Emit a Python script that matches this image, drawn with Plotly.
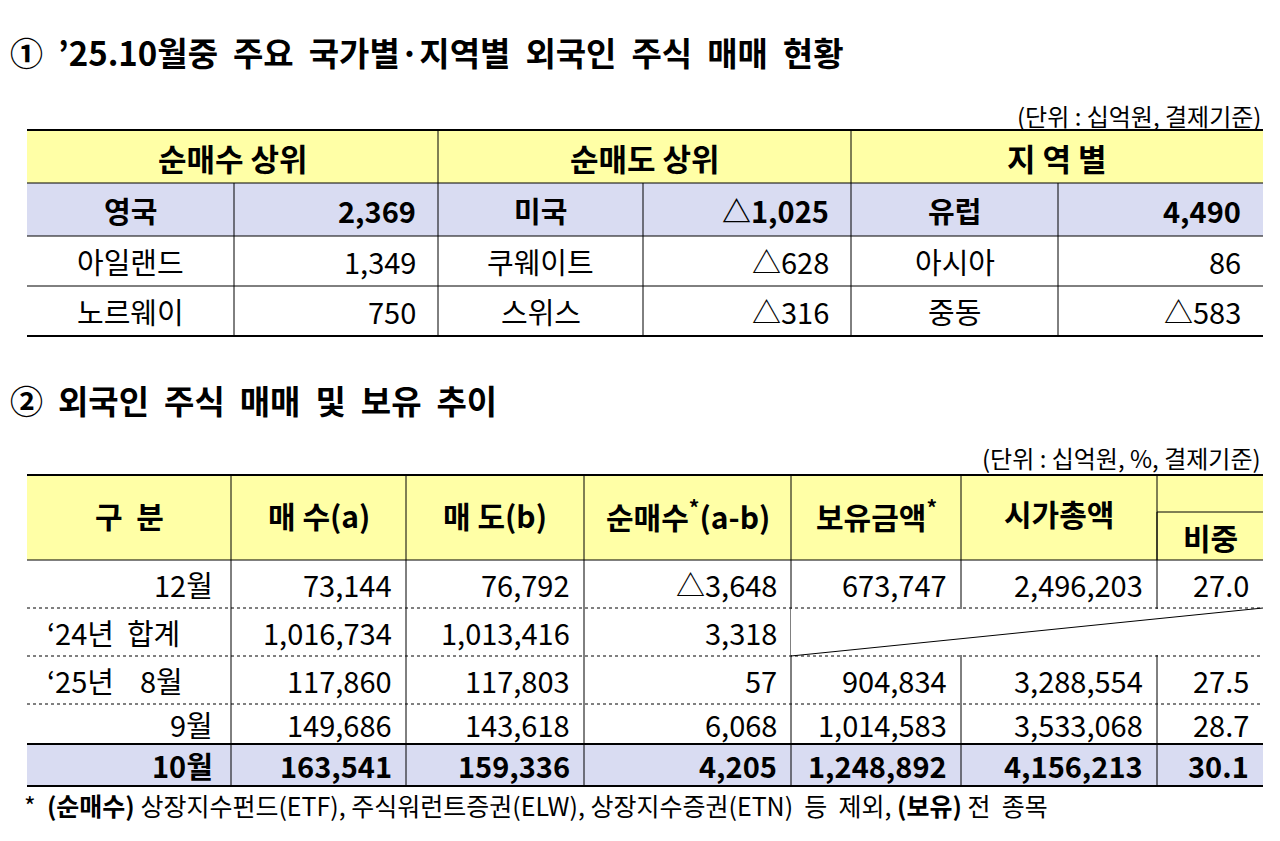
import plotly.graph_objects as go

FONT = "Noto Sans CJK KR"
YEL = "#FFFFA6"
LAV = "#D9DCF2"

# table 1 data
t1_groups = ["순매수 상위", "순매도 상위", "지 역 별"]
buy_names = ["영국", "아일랜드", "노르웨이"]
buy_vals = ["2,369", "1,349", "750"]
sell_names = ["미국", "쿠웨이트", "스위스"]
sell_vals = ["△1,025", "△628", "△316"]
reg_names = ["유럽", "아시아", "중동"]
reg_vals = ["4,490", "86", "△583"]

# table 2 data
t2_headers = ["구  분", "매 수(a)", "매 도(b)", "순매수<sup>*</sup>(a-b)", "보유금액<sup>*</sup>", "시가총액"]
t2_labels = ["12월", "‘24년  합계", "‘25년    8월", "9월", "10월"]
t2_buy = ["73,144", "1,016,734", "117,860", "149,686", "163,541"]
t2_sell = ["76,792", "1,013,416", "117,803", "143,618", "159,336"]
t2_net = ["△3,648", "3,318", "57", "6,068", "4,205"]
t2_hold = ["673,747", "", "904,834", "1,014,583", "1,248,892"]
t2_cap = ["2,496,203", "", "3,288,554", "3,533,068", "4,156,213"]
t2_share = ["27.0", "", "27.5", "28.7", "30.1"]

fig = go.Figure()
shapes, ann = [], []
NB = "\u00a0"

def rect(x0, y0, x1, y1, color):
    shapes.append(dict(type="rect", x0=x0, x1=x1, y0=y0, y1=y1, fillcolor=color, line_width=0, layer="below"))

def line(x0, y0, x1, y1, w=1, dash="solid", color="#000"):
    shapes.append(dict(type="line", x0=x0, x1=x1, y0=y0, y1=y1, line=dict(color=color, width=w, dash=dash)))

def text(x, y, s, anchor="center", size=29, bold=False):
    s = s.replace(" ", NB)
    if bold:
        s = "<b>" + s + "</b>"
    ann.append(dict(x=x, y=y, text=s, showarrow=False, xanchor=anchor, yanchor="middle",
                    font=dict(family=FONT, size=size, color="#000")))

# titles
text(8, 52, "①  ’25.10월중  주요  국가별·지역별  외국인  주식  매매  현황", "left", 33, True)
text(1263, 115, "(단위 : 십억원, 결제기준)", "right", 24)
text(8, 400, "②  외국인  주식  매매  및  보유  추이", "left", 33, True)
text(1263, 457, "(단위 : 십억원, %, 결제기준)", "right", 24)

# ---- table 1
cx = [27, 234, 438, 643, 851, 1058, 1263]
ry = [130, 183, 236, 286, 336]
rect(27, 130, 1263, 183, YEL)
rect(27, 183, 1263, 236, LAV)
line(27, 130, 1263, 130, 2)
line(27, 183, 1263, 183, 1)
line(27, 236, 1263, 236, 1)
line(27, 286, 1263, 286, 1)
line(27, 336, 1263, 336, 2)
for i, x in enumerate(cx[1:-1]):
    y0 = 130 if i % 2 == 1 else 183
    line(x, y0, x, 336, 1)
for g, grp in enumerate(t1_groups):
    text((cx[2 * g] + cx[2 * g + 2]) / 2, 157, grp, bold=True, size=31)
cols = [(buy_names, buy_vals), (sell_names, sell_vals), (reg_names, reg_vals)]
for g, (names, vals) in enumerate(cols):
    for r in range(3):
        yc = (ry[r + 1] + ry[r + 2]) / 2
        b = r == 0
        text((cx[2 * g] + cx[2 * g + 1]) / 2, yc, names[r], bold=b)
        text(cx[2 * g + 2] - 20, yc, vals[r], "right", bold=b)

# ---- table 2
c2 = [27, 231, 406, 584, 791, 961, 1157, 1263]
r2 = [475, 560, 608, 656, 704, 744, 786]
rect(27, 475, 1263, 560, YEL)
rect(27, 744, 1263, 786, LAV)
line(27, 475, 1263, 475, 2)
line(27, 560, 1263, 560, 1)
for y in [608, 656, 704]:
    line(27, y, 1263, y, 1, "dot")
line(27, 744, 1263, 744, 2)
line(27, 786, 1263, 786, 2)
for x in c2[1:-1]:
    line(x, 475, x, 786, 1)
line(1157, 512, 1157, 560, 1)
line(1157, 512, 1263, 512, 1)
shapes.append(dict(type="rect", x0=791, x1=1263, y0=609, y1=655, fillcolor="white", line_width=0))
line(791, 656, 1263, 608, 1)
for i, h in enumerate(t2_headers[:-1]):
    text((c2[i] + c2[i + 1]) / 2, 515, h, bold=True, size=30)
text((961 + 1157) / 2, 513, t2_headers[-1], bold=True, size=30)
text(1210, 537, "비중", bold=True, size=30)
for r in range(5):
    yc = (r2[r + 1] + r2[r + 2]) / 2
    b = r == 4
    if r == 1 or r == 2:
        text(45, yc, t2_labels[r], "left", bold=b)
    else:
        text(215, yc, t2_labels[r], "right", bold=b)
    vals = [t2_buy[r], t2_sell[r], t2_net[r], t2_hold[r], t2_cap[r], t2_share[r]]
    for j, v in enumerate(vals):
        if v:
            text(c2[j + 2] - 12, yc, v, "right", bold=b)

text(22, 805, "*  <b>(순매수)</b> 상장지수펀드(ETF), 주식워런트증권(ELW), 상장지수증권(ETN)  등  제외, <b>(보유)</b> 전  종목",
     "left", 25)

fig.update_layout(
    width=1280, height=841, margin=dict(l=0, r=0, t=0, b=0),
    plot_bgcolor="white", paper_bgcolor="white", shapes=shapes, annotations=ann,
    xaxis=dict(range=[8, 1288], visible=False, fixedrange=True),
    yaxis=dict(range=[849, 8], visible=False, fixedrange=True),
    showlegend=False,
)
fig.write_html("out.html")
